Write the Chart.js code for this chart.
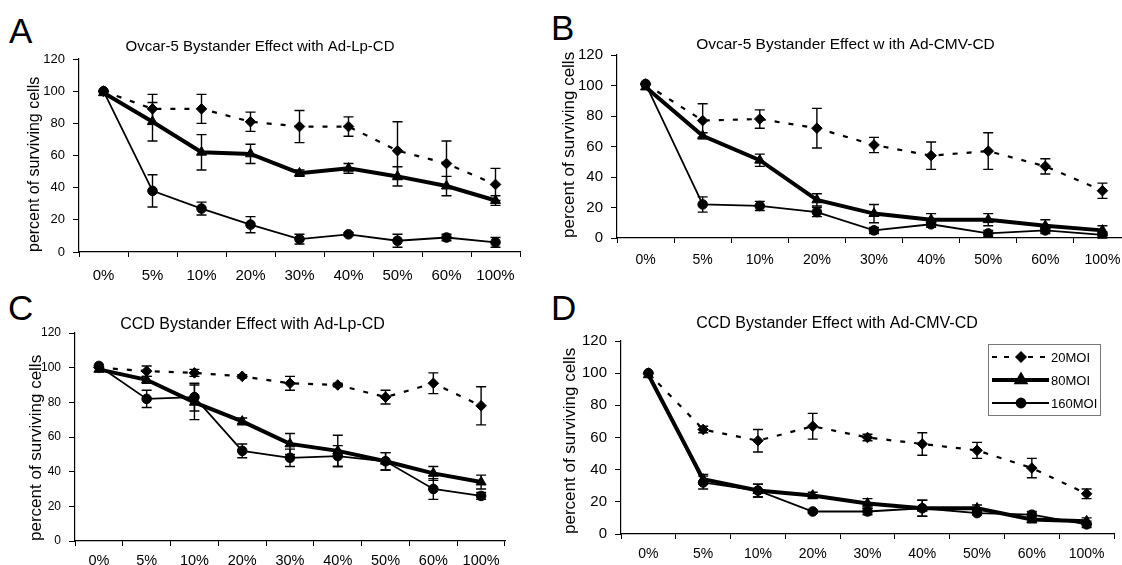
<!DOCTYPE html>
<html>
<head>
<meta charset="utf-8">
<script src="https://cdn.jsdelivr.net/npm/chart.js@4.4.1/dist/chart.umd.min.js"></script>
<style>
  html, body { margin: 0; padding: 0; background: #fff; overflow: hidden; width: 1122px; height: 565px; }
  canvas { position: absolute; }
  .letter { position: absolute; font-family: "Liberation Sans", Arial, sans-serif; font-size: 35px; line-height: 1; color: #000; }
</style>
</head>
<body>
<div class="letter" style="left:9px;top:13px">A</div>
<div class="letter" style="left:551px;top:10px">B</div>
<div class="letter" style="left:8px;top:290px">C</div>
<div class="letter" style="left:551px;top:290px">D</div>
<canvas id="chartA" width="560" height="290" style="left:0;top:0"></canvas>
<canvas id="chartB" width="580" height="290" style="left:560px;top:0"></canvas>
<canvas id="chartC" width="560" height="285" style="left:0;top:280px"></canvas>
<canvas id="chartD" width="562" height="285" style="left:560px;top:280px"></canvas>
<script>
const CATEGORIES = ['0%', '5%', '10%', '20%', '30%', '40%', '50%', '60%', '100%'];
const SERIES_NAMES = ['20MOI', '80MOI', '160MOI'];
const Y_TICKS = [0, 20, 40, 60, 80, 100, 120];

// A: Ovcar-5, Ad-Lp-CD
const a20 = [100, 89, 89, 81, 78, 78, 63, 55, 42];
const a20Err = [0, 9, 9, 6, 10, 6, 18, 14, 10];
const a80 = [99, 81, 62, 61, 49, 52, 47, 41, 32];
const a80Err = [0, 12, 11, 6, 2, 3, 6, 6, 3];
const a160 = [100, 38, 27, 17, 8, 11, 7, 9, 6];
const a160Err = [0, 10, 4, 5, 3, 1, 4, 2, 3];

// B: Ovcar-5, Ad-CMV-CD
const b20 = [101, 77, 78, 72, 61, 54, 57, 47, 31];
const b20Err = [0, 11, 6, 13, 5, 9, 12, 5, 5];
const b80 = [99, 67, 51, 25, 16, 12, 12, 8, 5];
const b80Err = [0, 2, 4, 4, 6, 4, 4, 4, 3];
const b160 = [101, 22, 21, 17, 5, 9, 3, 5, 2];
const b160Err = [0, 5, 3, 3, 2, 2, 2, 2, 2];

// C: CCD, Ad-Lp-CD
const c20 = [100, 98, 97, 95, 91, 90, 83, 91, 78];
const c20Err = [0, 3, 2, 1, 4, 1, 4, 6, 11];
const c80 = [99, 93, 80, 69, 56, 52, 46, 39, 34];
const c80Err = [0, 2, 10, 2, 6, 9, 5, 4, 4];
const c160 = [101, 82, 83, 52, 48, 49, 46, 30, 26];
const c160Err = [0, 5, 8, 4, 5, 6, 5, 6, 2];

// D: CCD, Ad-CMV-CD
const d20 = [100, 65, 58, 67, 60, 56, 52, 41, 25];
const d20Err = [0, 2, 7, 8, 2, 7, 5, 6, 3];
const d80 = [99, 34, 27, 24, 19, 16, 16, 9, 8];
const d80Err = [0, 3, 4, 2, 3, 5, 2, 2, 2];
const d160 = [100, 32, 27, 14, 14, 16, 13, 12, 6];
const d160Err = [0, 4, 4, 1, 2, 5, 1, 2, 2];

const FONT = '"Liberation Sans", Arial, sans-serif';
Chart.defaults.font.family = FONT;
Chart.defaults.color = '#000';

// line look per series: dashed + diamond, thick + triangle, thin + circle
const LOOKS = [
  { borderWidth: 2.2, borderDash: [5, 9], pointStyle: 'rectRot', pointRadius: 5.3 },
  { borderWidth: 4, borderDash: [], pointStyle: 'triangle', pointRadius: 5.8 },
  { borderWidth: 1.8, borderDash: [], pointStyle: 'circle', pointRadius: 4.8 },
];

const errorBars = {
  id: 'errorBars',
  afterDatasetsDraw(chart) {
    const { ctx } = chart;
    const y = chart.scales.y;
    ctx.save();
    ctx.strokeStyle = '#000';
    ctx.lineWidth = 1.4;
    chart.data.datasets.forEach((ds, i) => {
      const meta = chart.getDatasetMeta(i);
      meta.data.forEach((pt, j) => {
        const err = ds.errors[j];
        if (!err) return;
        const top = y.getPixelForValue(ds.data[j] + err);
        const bottom = y.getPixelForValue(ds.data[j] - err);
        ctx.beginPath();
        ctx.moveTo(pt.x, top); ctx.lineTo(pt.x, bottom);
        ctx.moveTo(pt.x - 5, top); ctx.lineTo(pt.x + 5, top);
        ctx.moveTo(pt.x - 5, bottom); ctx.lineTo(pt.x + 5, bottom);
        ctx.stroke();
      });
    });
    ctx.restore();
  }
};

// boxed legend with a line sample per series (only panel D has one)
const lineLegend = {
  id: 'lineLegend',
  afterDraw(chart) {
    const { ctx, chartArea } = chart;
    const left = chartArea.right - 126, top = chartArea.top + 3;
    ctx.save();
    ctx.strokeStyle = '#777';
    ctx.lineWidth = 1;
    ctx.strokeRect(left + 0.5, top + 0.5, 112, 71);
    ctx.font = '13px ' + FONT;
    ctx.textBaseline = 'middle';
    ctx.fillStyle = '#000';
    chart.data.datasets.forEach((ds, i) => {
      const yy = top + 13 + i * 23;
      ctx.strokeStyle = '#000';
      ctx.lineWidth = ds.borderWidth;
      ctx.setLineDash(i === 0 ? [5, 7] : []);
      ctx.beginPath();
      ctx.moveTo(left + 4, yy); ctx.lineTo(left + 61, yy);
      ctx.stroke();
      ctx.setLineDash([]);
      Chart.helpers.drawPoint(ctx, { pointStyle: ds.pointStyle, radius: 4.5, borderWidth: 1 }, left + 33, yy);
      ctx.fill();
      ctx.fillText(ds.label, left + 63, yy + 1);
    });
    ctx.restore();
  }
};

function makePanel(id, title, values, errors, g) {
  const datasets = values.map((data, i) => ({
    label: SERIES_NAMES[i],
    data,
    errors: errors[i],
    borderColor: '#000',
    backgroundColor: '#000',
    pointBorderColor: '#000',
    pointBorderWidth: 1,
    tension: 0,
    ...LOOKS[i],
  }));
  const plugins = [errorBars];
  if (g.legend) plugins.push(lineLegend);

  new Chart(document.getElementById(id), {
    type: 'line',
    data: { labels: CATEGORIES, datasets },
    plugins,
    options: {
      responsive: false,
      animation: false,
      devicePixelRatio: 1,
      layout: { padding: { right: g.padRight } },
      plugins: {
        legend: { display: false },
        tooltip: { enabled: false },
        title: {
          display: true,
          text: title,
          font: { size: g.titleSize, weight: 'normal', lineHeight: 1 },
          padding: { top: g.titleTop, bottom: g.titleBottom },
        },
      },
      scales: {
        x: {
          offset: true,
          afterFit(scale) { scale.height = g.xHeight; },
          border: { color: '#000', width: 1.2 },
          grid: { drawOnChartArea: false, color: '#000', tickLength: 5, offset: true },
          ticks: { font: { size: g.xSize }, padding: g.xPad, maxRotation: 0, autoSkip: false },
        },
        y: {
          min: 0,
          max: 120,
          afterFit(scale) { scale.width = g.yWidth; },
          afterBuildTicks(scale) { scale.ticks = Y_TICKS.map(v => ({ value: v })); },
          border: { color: '#000', width: 1.2 },
          grid: { drawOnChartArea: false, color: '#000', tickLength: 6 },
          ticks: { font: { size: g.ySize }, padding: 8 },
          title: {
            display: true,
            text: 'percent of surviving cells',
            align: 'start',
            font: { size: g.yTitleSize, lineHeight: 1 },
            padding: { top: g.yTitlePad, bottom: 0 },
          },
        },
      },
    },
  });
}

makePanel('chartA', 'Ovcar-5 Bystander Effect with Ad-Lp-CD',
  [a20, a80, a160], [a20Err, a80Err, a160Err],
  { padRight: 40, titleSize: 15, titleTop: 39.5, titleBottom: 4.5, xHeight: 38, xSize: 15, xPad: 10,
    yWidth: 79, ySize: 13, yTitleSize: 16, yTitlePad: 27 });

makePanel('chartB', 'Ovcar-5 Bystander Effect w ith Ad-CMV-CD',
  [b20, b80, b160], [b20Err, b80Err, b160Err],
  { padRight: 9, titleSize: 15.5, titleTop: 37.2, titleBottom: 2.3, xHeight: 52, xSize: 14, xPad: 9,
    yWidth: 57, ySize: 15, yTitleSize: 17, yTitlePad: 1 });

makePanel('chartC', 'CCD Bystander Effect with Ad-Lp-CD',
  [c20, c80, c160], [c20Err, c80Err, c160Err],
  { padRight: 55, titleSize: 16, titleTop: 37, titleBottom: 0, xHeight: 24, xSize: 14.5, xPad: 6,
    yWidth: 75, ySize: 12, yTitleSize: 17, yTitlePad: 28 });

makePanel('chartD', 'CCD Bystander Effect with Ad-CMV-CD',
  [d20, d80, d160], [d20Err, d80Err, d160Err],
  { padRight: 8, titleSize: 16, titleTop: 36, titleBottom: 9, xHeight: 31, xSize: 14, xPad: 7,
    yWidth: 61, ySize: 15, yTitleSize: 17, yTitlePad: 2, legend: true });
</script>
</body>
</html>
